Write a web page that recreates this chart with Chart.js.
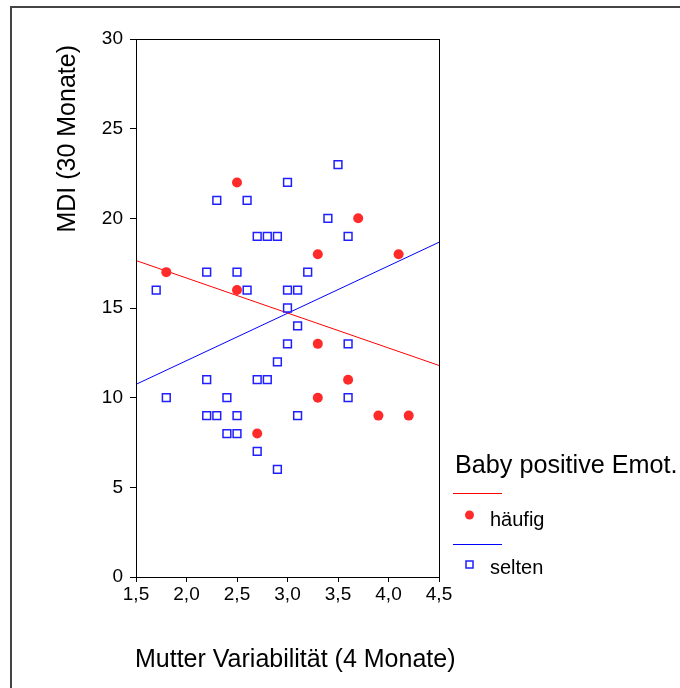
<!DOCTYPE html>
<html>
<head>
<meta charset="utf-8">
<script src="https://cdn.jsdelivr.net/npm/chart.js@4.4.1/dist/chart.umd.min.js"></script>
<style>
  html, body { margin: 0; padding: 0; background: #fff; }
  #wrap { width: 680px; height: 688px; }
</style>
</head>
<body>
<div id="wrap"><canvas id="chart" width="680" height="688"></canvas></div>
<script>
// --- data ---
const haeufigX = [2.5, 3.7, 3.3, 4.1, 1.8, 2.5, 3.3, 3.6, 3.3, 3.9, 4.2, 2.7];
const haeufigY = [22, 20, 18, 18, 17, 16, 13, 11, 10, 9, 9, 8];

const seltenX = [3.5, 3.0, 2.3, 2.6, 3.4, 2.7, 2.8, 2.9, 3.6, 2.2, 2.5, 3.2, 1.7, 2.6, 3.0, 3.1, 3.0, 3.1,
                 3.0, 3.6, 2.9, 2.2, 2.7, 2.8, 1.8, 2.4, 3.6, 2.2, 2.3, 2.5, 3.1, 2.4, 2.5, 2.7, 2.9];
const seltenY = [23, 22, 21, 21, 20, 19, 19, 19, 19, 17, 17, 17, 16, 16, 16, 16, 15, 14,
                 13, 13, 12, 11, 11, 11, 10, 10, 10, 9, 9, 9, 9, 8, 8, 7, 6];

const xTicks = [1.5, 2.0, 2.5, 3.0, 3.5, 4.0, 4.5];
const yTicks = [0, 5, 10, 15, 20, 25, 30];

const xTitle = 'Mutter Variabilität (4 Monate)';
const yTitle = 'MDI (30 Monate)';

const RED = '#ff0000';
const RED_DOT = '#ff2b2b';
const BLUE = '#0000ff';
const BLUE_MARK = '#1f1fff';
const FONT = '"Liberation Sans", Arial, Helvetica, sans-serif';

// least squares line, evaluated at the ends of the x axis
function fitLine(xs, ys) {
  const n = xs.length;
  const mx = xs.reduce((a, b) => a + b, 0) / n;
  const my = ys.reduce((a, b) => a + b, 0) / n;
  let sxy = 0, sxx = 0;
  for (let i = 0; i < n; i++) {
    sxy += (xs[i] - mx) * (ys[i] - my);
    sxx += (xs[i] - mx) * (xs[i] - mx);
  }
  const b = sxy / sxx;
  const a = my - b * mx;
  const ends = [xTicks[0], xTicks[xTicks.length - 1]];
  return ends.map(x => ({ x, y: a + b * x }));
}

const toPoints = (xs, ys) => xs.map((x, i) => ({ x, y: ys[i] }));
const comma = v => Number(v).toFixed(1).replace('.', ',');

// plot frame, outer page border and axis titles
// (titles drawn here: Chart.js squeezes a title to the axis width)
const framePlugin = {
  id: 'frame',
  afterDraw(chart) {
    const { ctx, chartArea: a } = chart;
    ctx.save();
    ctx.strokeStyle = '#000';
    ctx.lineWidth = 1;
    ctx.strokeRect(a.left + 0.5, a.top + 0.5, a.right - a.left, a.bottom - a.top);
    ctx.strokeStyle = '#444';
    ctx.lineWidth = 2;
    ctx.beginPath();
    ctx.moveTo(11, 700);
    ctx.lineTo(11, 7);
    ctx.lineTo(700, 7);
    ctx.stroke();

    ctx.fillStyle = '#000';
    ctx.font = '25px ' + FONT;
    ctx.textBaseline = 'middle';
    ctx.textAlign = 'left';
    ctx.fillText(xTitle, a.left - 1, 660);

    ctx.translate(68, a.top + 6);
    ctx.rotate(-Math.PI / 2);
    ctx.textAlign = 'right';
    ctx.fillText(yTitle, 0, 0);
    ctx.restore();
  }
};

// SPSS style legend on the right
const legendPlugin = {
  id: 'sideLegend',
  afterDraw(chart) {
    const { ctx } = chart;
    ctx.save();
    ctx.fillStyle = '#000';
    ctx.textBaseline = 'alphabetic';
    ctx.font = '25.2px ' + FONT;
    ctx.fillText('Baby positive Emot.', 455, 473);

    ctx.lineWidth = 1;
    ctx.strokeStyle = RED;
    ctx.beginPath(); ctx.moveTo(453, 493.5); ctx.lineTo(502, 493.5); ctx.stroke();
    ctx.fillStyle = RED_DOT;
    ctx.beginPath(); ctx.arc(469.5, 515, 4.5, 0, Math.PI * 2); ctx.fill();

    ctx.strokeStyle = BLUE;
    ctx.beginPath(); ctx.moveTo(453, 544.5); ctx.lineTo(502, 544.5); ctx.stroke();
    ctx.strokeStyle = BLUE_MARK;
    ctx.lineWidth = 1.5;
    ctx.strokeRect(466, 561, 7, 7);

    ctx.fillStyle = '#000';
    ctx.font = '20px ' + FONT;
    ctx.fillText('häufig', 490, 526);
    ctx.fillText('selten', 490, 574);
    ctx.restore();
  }
};

new Chart(document.getElementById('chart'), {
  type: 'scatter',
  data: {
    datasets: [
      {
        label: 'häufig',
        data: toPoints(haeufigX, haeufigY),
        pointStyle: 'circle',
        pointRadius: 5,
        backgroundColor: RED_DOT,
        borderColor: RED_DOT,
        borderWidth: 0,
      },
      {
        label: 'selten',
        data: toPoints(seltenX, seltenY),
        pointStyle: 'rect',
        pointRadius: 5.5,
        backgroundColor: 'rgba(0,0,0,0)',
        borderColor: BLUE_MARK,
        borderWidth: 1.5,
      },
      {
        type: 'line',
        label: 'häufig fit',
        data: fitLine(haeufigX, haeufigY),
        borderColor: RED,
        borderWidth: 1,
        pointRadius: 0,
        fill: false,
      },
      {
        type: 'line',
        label: 'selten fit',
        data: fitLine(seltenX, seltenY),
        borderColor: BLUE,
        borderWidth: 1,
        pointRadius: 0,
        fill: false,
      },
    ],
  },
  options: {
    responsive: false,
    animation: false,
    devicePixelRatio: 1,
    layout: { padding: { left: 0, top: 39, right: 241, bottom: 0 } },
    plugins: { legend: { display: false }, tooltip: { enabled: false } },
    scales: {
      x: {
        type: 'linear',
        min: xTicks[0],
        max: xTicks[xTicks.length - 1],
        afterBuildTicks: s => { s.ticks = xTicks.map(v => ({ value: v })); },
        afterFit: s => { s.height = 111; },
        ticks: {
          color: '#000',
          font: { family: FONT, size: 19 },
          padding: 1,
          maxRotation: 0,
          autoSkip: false,
          callback: comma,
        },
        grid: { drawOnChartArea: false, tickLength: 5, color: '#000' },
        border: { display: true, color: '#000' },
      },
      y: {
        type: 'linear',
        min: yTicks[0],
        max: yTicks[yTicks.length - 1],
        afterBuildTicks: s => { s.ticks = yTicks.map(v => ({ value: v })); },
        afterFit: s => { s.width = 136; },
        ticks: {
          color: '#000',
          font: { family: FONT, size: 19 },
          padding: 7,
        },
        grid: { drawOnChartArea: false, tickLength: 6, color: '#000' },
        border: { display: true, color: '#000' },
      },
    },
  },
  plugins: [framePlugin, legendPlugin],
});
</script>
</body>
</html>
